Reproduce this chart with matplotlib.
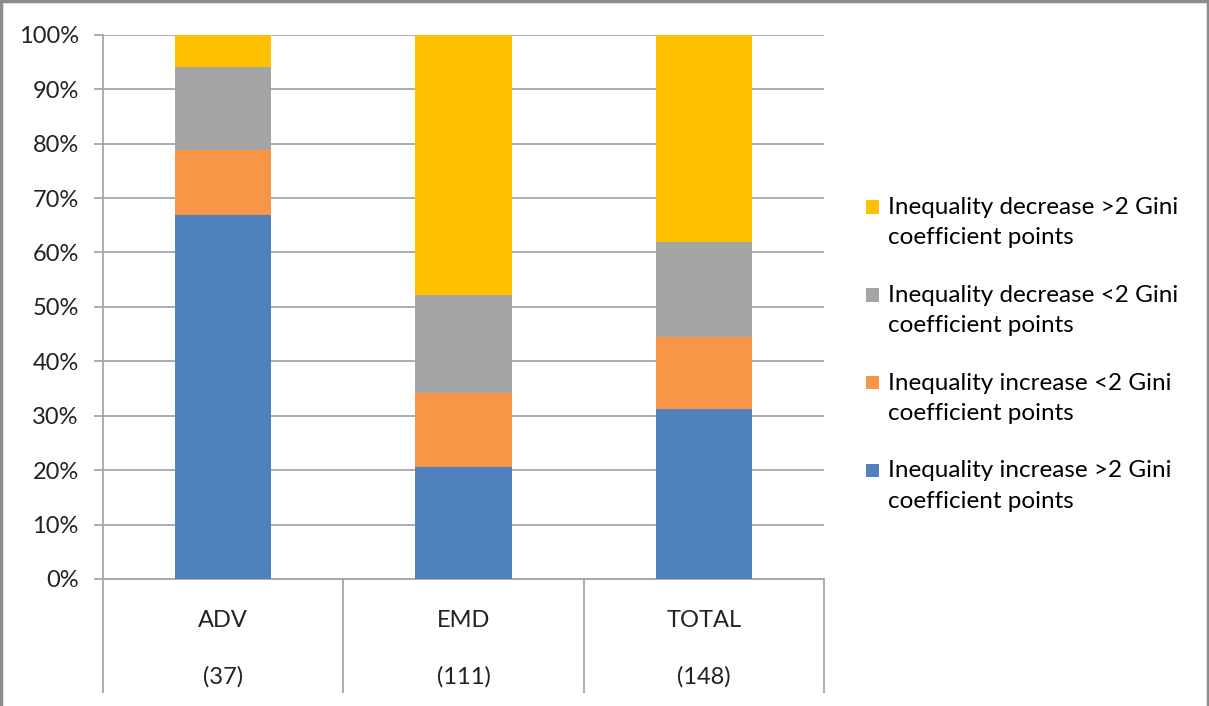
import matplotlib
matplotlib.use("Agg")
import matplotlib.pyplot as plt
import numpy as np
from matplotlib.legend_handler import HandlerPatch
from matplotlib.lines import Line2D
from matplotlib.patches import Patch, Rectangle

plt.rcParams["font.family"] = ["Lato", "DejaVu Sans"]

groups = ["ADV", "EMD", "TOTAL"]
counts = [37, 111, 148]

# share of countries (%) in each group, bottom to top of the stack
inc_gt2 = [66.8, 20.6, 31.2]
inc_lt2 = [12.1, 13.6, 13.3]
dec_lt2 = [15.1, 18.0, 17.5]
dec_gt2 = [6.0, 47.8, 38.0]

series = [
    ("Inequality increase >2 Gini\ncoefficient points", inc_gt2, "#4F81BD"),
    ("Inequality increase <2 Gini\ncoefficient points", inc_lt2, "#F79646"),
    ("Inequality decrease <2 Gini\ncoefficient points", dec_lt2, "#A5A5A5"),
    ("Inequality decrease >2 Gini\ncoefficient points", dec_gt2, "#FFC000"),
]

GRID = "#A6A6A6"
FS = 17
LEG_FS = 17.5

fig = plt.figure(figsize=(12.09, 7.06), dpi=100)
ax = fig.add_axes([0.0852, 0.1799, 0.5964, 0.7709])

x = np.arange(len(groups))
bottom = np.zeros(len(groups))
handles = []
for label, vals, color in series:
    ax.bar(x, vals, width=0.4, bottom=bottom, color=color, zorder=3)
    bottom += np.array(vals)
    handles.append(Patch(facecolor=color, label=label))

ax.set_xlim(-0.5, 2.5)
ax.set_ylim(0, 100)
ax.set_yticks(np.arange(0, 101, 10))
ax.set_yticklabels([f"{v}%" for v in range(0, 101, 10)], fontsize=FS, color="#222222")
ax.yaxis.grid(True, color=GRID, lw=1.3, zorder=0)
ax.tick_params(axis="y", length=6.5, width=1.3, color=GRID, pad=11)

ax.set_xticks(x)
ax.set_xticklabels([f"{g}\n\n({n})" for g, n in zip(groups, counts)],
                   fontsize=FS, color="#222222", linespacing=1.4)
ax.tick_params(axis="x", which="major", length=0, pad=22.5)
# category separators reaching down through the label area
ax.set_xticks([-0.5, 0.5, 1.5, 2.5], minor=True)
ax.tick_params(axis="x", which="minor", length=82, width=1.3, color=GRID, direction="out")

for side in ("top", "right"):
    ax.spines[side].set_visible(False)
for side in ("left", "bottom"):
    ax.spines[side].set_color(GRID)
    ax.spines[side].set_linewidth(1.3)


def square_handle(legend, orig_handle, xdescent, ydescent, width, height, fontsize):
    # square aligned with the first line of a two-line label
    s = 0.56 * fontsize
    y0 = -ydescent + height / 2 + 0.64 * fontsize - s / 2
    return Rectangle((-xdescent, y0), s, s)


leg = fig.legend(handles[::-1], [h.get_label() for h in handles[::-1]],
                 loc="upper left", bbox_to_anchor=(0.698, 0.752), frameon=False,
                 fontsize=LEG_FS, handlelength=0.56, handletextpad=0.35, labelspacing=1.5,
                 handler_map={Patch: HandlerPatch(patch_func=square_handle)})
for t in leg.get_texts():
    t.set_linespacing(1.55)

# chart frame
for xs, ys in [((0.001, 0.001), (0, 1)), ((0, 1), (0.998, 0.998)), ((0.999, 0.999), (0, 1))]:
    fig.add_artist(Line2D(xs, ys, color="#8C8C8C", lw=2.5, transform=fig.transFigure))

fig.savefig("out.png", dpi=100)
